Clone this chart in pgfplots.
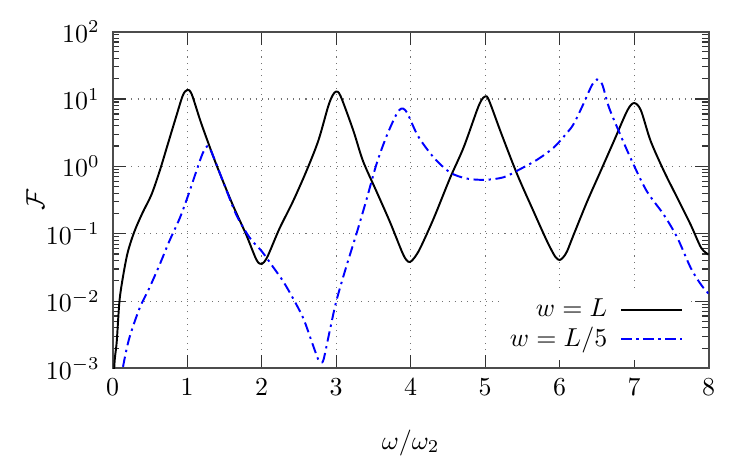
\documentclass[border=0pt]{standalone}
\usepackage{pgfplots}
\pgfplotsset{compat=1.18}

\begin{document}
\begin{tikzpicture}
\begin{axis}[
  name=ax,
  scale only axis,
  width=230pt, height=130pt,
  ymode=log,
  xmin=0, xmax=8,
  ymin=1e-3, ymax=1e2,
  xtick={0,1,...,8},
  ytick={1e-3,1e-2,1e-1,1e0,1e1,1e2},
  minor x tick num=0,
  tick align=inside,
  major tick length=5.2pt,
  minor tick length=2.6pt,
  tick style={black!80, line width=0.45pt},
  axis line style={black!70, line width=0.75pt},
  grid=major,
  grid style={dotted, black!55, line width=0.45pt},
  xlabel={$\omega/\omega_2$},
  ylabel={$\mathcal{F}$},
  xlabel style={at={(axis description cs:0.5,-0.22)}, anchor=center},
  ylabel style={at={(axis description cs:-0.13,0.5)}, anchor=center},
  yticklabel style={xshift=-1.5pt},
  xticklabel style={yshift=-0.5pt},
  legend cell align=right,
  legend plot pos=right,
  legend style={draw=none, fill=white, at={(0.965,0.025)}, anchor=south east,
    row sep=-1.5pt, column sep=3pt, inner sep=1.5pt},
  legend image code/.code={\draw[#1] (0cm,0cm) -- (0.83cm,0cm);},
]
\addplot[black, line width=0.75pt, smooth, tension=0.5] coordinates {
(0.005,0.0001) (0.02,0.001) (0.054,0.0025) (0.09,0.0098) (0.135,0.022)
(0.20,0.052) (0.29,0.107) (0.40,0.204) (0.52,0.38) (0.63,0.85) (0.74,2.14)
(0.85,5.4) (0.94,11.2) (1.0,13.6) (1.06,11.8) (1.19,4.3) (1.39,1.07)
(1.61,0.27) (1.79,0.098) (1.93,0.041) (2.0,0.0355) (2.06,0.042) (2.11,0.055)
(2.24,0.12) (2.42,0.302) (2.60,0.85) (2.76,2.4) (2.89,7.6) (2.95,11.2) (3.0,12.9)
(3.06,11.0) (3.23,3.4) (3.36,1.2) (3.54,0.427) (3.72,0.151)
(3.88,0.055) (3.94,0.041) (3.99,0.038) (4.05,0.044) (4.13,0.0617) (4.31,0.17)
(4.53,0.676) (4.71,1.9) (4.89,6.8) (4.95,9.6) (5.0,10.9) (5.05,9.6)
(5.22,3.0) (5.43,0.76) (5.65,0.214) (5.83,0.0776) (5.94,0.0457) (6.0,0.0407)
(6.05,0.045) (6.10,0.055) (6.19,0.098) (6.37,0.302) (6.55,0.85) (6.73,2.4)
(6.91,6.8) (7.0,8.7) (7.09,6.8) (7.22,2.4) (7.40,0.85)
(7.58,0.339) (7.76,0.135) (7.90,0.0617) (8.0,0.049)
};
\addlegendentry{$w=L$}
\addplot[blue, line width=0.75pt, smooth, tension=0.5,
  dash pattern=on 4pt off 1.8pt on 0.9pt off 1.8pt] coordinates {
(0.11,0.0005) (0.135,0.001) (0.22,0.00275) (0.36,0.0078) (0.49,0.0155)
(0.63,0.0347) (0.76,0.0776) (0.90,0.17) (1.01,0.363) (1.12,0.83) (1.21,1.58)
(1.28,2.0) (1.35,1.41) (1.48,0.603) (1.66,0.19) (1.84,0.087) (2.0,0.055)
(2.15,0.0324) (2.29,0.0195) (2.42,0.011) (2.56,0.0055) (2.69,0.00219)
(2.76,0.00135) (2.795,0.00125) (2.83,0.00135) (2.91,0.00347) (3.0,0.0098)
(3.13,0.031) (3.27,0.098) (3.40,0.302) (3.54,1.07) (3.67,2.7) (3.79,5.4)
(3.85,6.9) (3.90,7.2) (3.96,6.0) (4.10,2.8) (4.31,1.35) (4.53,0.81) (4.75,0.66)
(5.0,0.631) (5.25,0.69) (5.47,0.91) (5.70,1.26) (5.92,1.9) (6.10,3.16)
(6.19,4.3) (6.32,8.5) (6.43,15.8) (6.50,19.5) (6.57,16.6) (6.66,7.6)
(6.79,3.4) (6.97,1.2) (7.17,0.427) (7.40,0.19) (7.58,0.087) (7.76,0.031)
(7.90,0.0174) (8.0,0.0129)
};
\addlegendentry{$w=L/5$}
\end{axis}
\path ([xshift=-43.5pt,yshift=-37.4pt]ax.south west) rectangle ([xshift=14.8pt,yshift=12.2pt]ax.north east);
\end{tikzpicture}
\end{document}
